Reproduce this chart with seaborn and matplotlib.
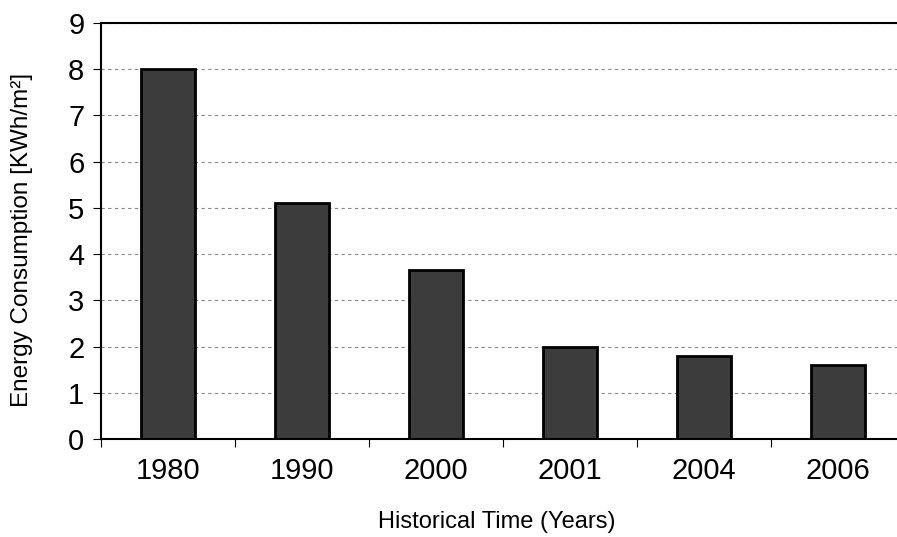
import matplotlib

matplotlib.use("Agg")

import matplotlib.pyplot as plt
import numpy as np
import pandas as pd
import seaborn as sns

YEARS = ["1980", "1990", "2000", "2001", "2004", "2006"]
CONSUMPTION = [8.0, 5.1, 3.65, 2.0, 1.8, 1.6]
Y_TICKS = list(range(0, 10))

frame = pd.DataFrame({"Year": YEARS, "Energy": CONSUMPTION})

sns.set_theme(style="white")
plt.rcParams["font.family"] = ["Liberation Sans", "DejaVu Sans"]
plt.rcParams["text.color"] = "black"
plt.rcParams["axes.labelcolor"] = "black"
plt.rcParams["xtick.color"] = "black"
plt.rcParams["ytick.color"] = "black"

fig = plt.figure(figsize=(8.97, 5.37), dpi=100)
ax = fig.add_axes([101 / 897, 98 / 537, 804 / 897, 416 / 537])

sns.barplot(
    data=frame,
    x="Year",
    y="Energy",
    color="#3c3c3c",
    edgecolor="black",
    linewidth=2.0,
    width=0.4,
    saturation=1,
    ax=ax,
)

ax.set_xlim(-0.5, len(YEARS) - 0.5)
ax.set_ylim(0, 9)
ax.set_yticks(Y_TICKS)
ax.yaxis.grid(True, linestyle=(0, (3, 3)), color="#888888", linewidth=0.8)
ax.set_axisbelow(True)

# category boundary ticks on the x axis
ax.set_xticks(np.arange(-0.5, len(YEARS)), minor=True)
ax.tick_params(axis="x", which="major", length=0, pad=13, labelsize=21)
ax.tick_params(axis="x", which="minor", length=6, width=0.8, direction="out", bottom=True)
ax.tick_params(axis="y", length=6, width=0.8, direction="out", left=True, pad=6, labelsize=21)

for side in ["left", "bottom", "top"]:
    ax.spines[side].set_color("black")
    ax.spines[side].set_linewidth(1.5)
ax.spines["right"].set_visible(False)

ax.set_xlabel("Historical Time (Years)", fontsize=17, va="center")
ax.set_ylabel("Energy Consumption [KWh/m²]", fontsize=17.5, va="center")
ax.xaxis.set_label_coords(0.4925, -0.2)
ax.yaxis.set_label_coords(-0.098, 0.478)

fig.savefig("out.png", dpi=100)
